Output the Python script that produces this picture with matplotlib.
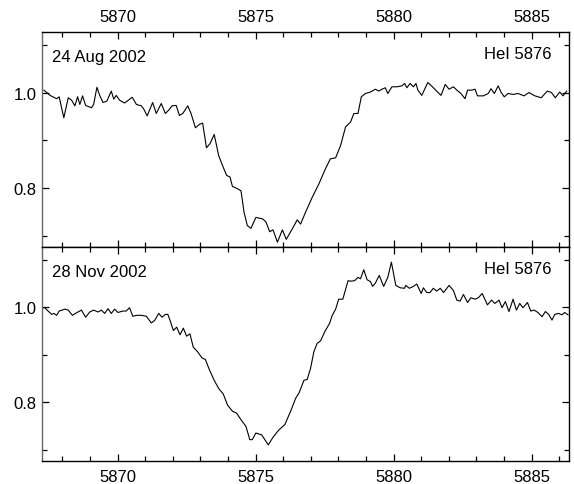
#!/usr/bin/env python
## HeI 5876 line profiles on two dates, stacked panels

import numpy as np
import matplotlib
matplotlib.use('Agg')
from matplotlib import pyplot as plt
from matplotlib.ticker import MultipleLocator

plt.rcParams['font.family'] = ['Liberation Sans', 'DejaVu Sans']

# 24 Aug 2002
aug_wl = [5867.33, 5867.55, 5867.79, 5867.88, 5868.05, 5868.21, 5868.33, 5868.45, 5868.55, 5868.63,
          5868.73, 5868.84, 5869.05, 5869.13, 5869.25, 5869.35, 5869.47, 5869.61, 5869.77, 5869.86,
          5869.95, 5870.07, 5870.25, 5870.37, 5870.53, 5870.68, 5870.86, 5870.94, 5871.07, 5871.27,
          5871.40, 5871.58, 5871.73, 5871.85, 5871.97, 5872.12, 5872.24, 5872.36, 5872.54, 5872.66,
          5872.82, 5872.96, 5873.08, 5873.22, 5873.35, 5873.50, 5873.66, 5873.80, 5873.95, 5874.07,
          5874.16, 5874.31, 5874.47, 5874.58, 5874.70, 5874.83, 5875.01, 5875.25, 5875.37, 5875.51,
          5875.63, 5875.79, 5875.97, 5876.11, 5876.29, 5876.51, 5876.63, 5876.81, 5877.05, 5877.29,
          5877.53, 5877.71, 5877.90, 5878.08, 5878.26, 5878.44, 5878.56, 5878.71, 5878.83, 5878.98,
          5879.16, 5879.34, 5879.46, 5879.58, 5879.70, 5879.79, 5879.94, 5880.12, 5880.30, 5880.40,
          5880.48, 5880.60, 5880.72, 5880.81, 5880.88, 5881.02, 5881.24, 5881.41, 5881.56, 5881.72,
          5881.87, 5882.01, 5882.17, 5882.29, 5882.44, 5882.59, 5882.68, 5882.83, 5882.95, 5883.04,
          5883.25, 5883.43, 5883.53, 5883.65, 5883.79, 5883.89, 5884.01, 5884.15, 5884.33, 5884.51,
          5884.73, 5884.90, 5885.12, 5885.35, 5885.57, 5885.72, 5885.86, 5886.02, 5886.14, 5886.27]
aug_flux = [1.005, 0.994, 0.987, 0.991, 0.947, 0.989, 0.984, 0.972, 0.991, 0.975,
            0.993, 0.973, 0.968, 0.975, 1.011, 0.994, 0.979, 0.982, 1.003, 0.986,
            0.994, 0.984, 0.978, 0.983, 0.990, 0.975, 0.972, 0.966, 0.951, 0.979,
            0.956, 0.977, 0.956, 0.963, 0.972, 0.973, 0.952, 0.956, 0.972, 0.956,
            0.926, 0.933, 0.936, 0.884, 0.893, 0.912, 0.868, 0.847, 0.826, 0.823,
            0.803, 0.799, 0.794, 0.749, 0.721, 0.715, 0.738, 0.735, 0.729, 0.708,
            0.712, 0.686, 0.712, 0.692, 0.710, 0.733, 0.724, 0.749, 0.780, 0.808,
            0.840, 0.861, 0.863, 0.889, 0.928, 0.938, 0.956, 0.956, 0.991, 0.998,
            1.001, 1.007, 1.003, 1.007, 1.010, 0.998, 1.012, 1.012, 1.014, 1.019,
            1.010, 1.019, 1.012, 1.019, 1.005, 0.994, 1.021, 1.012, 1.003, 0.994,
            1.017, 1.007, 1.012, 1.005, 0.998, 0.987, 1.005, 1.005, 1.007, 0.993,
            0.993, 0.998, 1.008, 0.998, 1.014, 1.001, 0.991, 0.998, 0.996, 0.998,
            0.993, 1.000, 0.993, 0.989, 1.003, 1.000, 0.989, 1.001, 0.993, 1.003]

# 28 Nov 2002
nov_wl = [5867.25, 5867.36, 5867.48, 5867.61, 5867.69, 5867.79, 5867.88, 5868.09, 5868.21, 5868.36,
          5868.53, 5868.69, 5868.84, 5868.99, 5869.13, 5869.29, 5869.41, 5869.53, 5869.65, 5869.77,
          5869.89, 5870.01, 5870.19, 5870.31, 5870.43, 5870.55, 5870.70, 5870.86, 5871.04, 5871.22,
          5871.34, 5871.49, 5871.61, 5871.73, 5871.82, 5871.90, 5872.02, 5872.14, 5872.26, 5872.38,
          5872.50, 5872.62, 5872.74, 5872.90, 5873.06, 5873.18, 5873.32, 5873.50, 5873.66, 5873.83,
          5873.98, 5874.16, 5874.31, 5874.47, 5874.65, 5874.79, 5874.88, 5875.01, 5875.22, 5875.46,
          5875.63, 5875.82, 5876.06, 5876.27, 5876.45, 5876.57, 5876.75, 5876.87, 5876.99, 5877.11,
          5877.23, 5877.35, 5877.51, 5877.68, 5877.77, 5877.90, 5878.01, 5878.16, 5878.35, 5878.44,
          5878.59, 5878.71, 5878.80, 5878.92, 5879.04, 5879.16, 5879.24, 5879.34, 5879.48, 5879.64,
          5879.79, 5879.92, 5880.08, 5880.24, 5880.40, 5880.44, 5880.57, 5880.72, 5880.84, 5881.00,
          5881.08, 5881.20, 5881.32, 5881.44, 5881.56, 5881.69, 5881.81, 5882.01, 5882.17, 5882.29,
          5882.41, 5882.53, 5882.68, 5882.80, 5882.95, 5883.07, 5883.21, 5883.40, 5883.55, 5883.67,
          5883.82, 5883.93, 5884.05, 5884.18, 5884.33, 5884.45, 5884.57, 5884.69, 5884.85, 5884.97,
          5885.09, 5885.23, 5885.38, 5885.50, 5885.62, 5885.74, 5885.84, 5885.98, 5886.10, 5886.20,
          5886.32]
nov_flux = [0.999, 0.999, 0.992, 0.985, 0.987, 0.983, 0.992, 0.996, 0.994, 0.983,
            0.989, 0.994, 0.979, 0.990, 0.994, 0.990, 0.994, 0.987, 0.997, 0.987,
            0.996, 0.989, 0.992, 0.992, 0.999, 0.981, 0.983, 0.983, 0.981, 0.967,
            0.972, 0.987, 0.979, 0.985, 0.985, 0.972, 0.951, 0.958, 0.942, 0.956,
            0.939, 0.944, 0.916, 0.906, 0.893, 0.890, 0.869, 0.846, 0.829, 0.817,
            0.794, 0.781, 0.777, 0.763, 0.749, 0.721, 0.721, 0.735, 0.731, 0.710,
            0.726, 0.740, 0.753, 0.781, 0.808, 0.819, 0.846, 0.848, 0.871, 0.906,
            0.924, 0.929, 0.949, 0.966, 0.982, 0.996, 1.017, 1.017, 1.056, 1.055,
            1.056, 1.063, 1.060, 1.079, 1.058, 1.054, 1.044, 1.051, 1.067, 1.044,
            1.063, 1.095, 1.046, 1.041, 1.040, 1.046, 1.040, 1.044, 1.049, 1.029,
            1.041, 1.031, 1.031, 1.040, 1.034, 1.040, 1.031, 1.046, 1.035, 1.015,
            1.013, 1.027, 1.010, 1.020, 1.017, 1.020, 1.029, 1.005, 1.015, 1.008,
            1.015, 0.999, 1.012, 0.991, 1.017, 0.994, 1.008, 0.999, 1.010, 0.992,
            0.994, 0.989, 0.980, 0.991, 0.985, 0.973, 0.985, 0.987, 0.984, 0.989,
            0.984]

dates = ['24 Aug 2002', '28 Nov 2002']
line_label = 'HeI 5876'

fig = plt.figure(figsize=(5.74, 4.85), dpi=100)
ax1 = fig.add_axes([0.0732, 0.4887, 0.9178, 0.4433])
ax2 = fig.add_axes([0.0732, 0.0474, 0.9178, 0.4413])

for ax, wl, flux, date in [(ax1, aug_wl, aug_flux, dates[0]), (ax2, nov_wl, nov_flux, dates[1])]:
    ax.plot(wl, flux, color='black', lw=0.8)
    ax.set_xlim(5867.26, 5886.35)
    ax.set_ylim(0.676, 1.127)
    ax.xaxis.set_major_locator(MultipleLocator(5))
    ax.xaxis.set_minor_locator(MultipleLocator(1))
    ax.yaxis.set_major_locator(MultipleLocator(0.2))
    ax.yaxis.set_minor_locator(MultipleLocator(0.1))
    ax.yaxis.set_major_formatter(plt.FormatStrFormatter('%.1f'))
    ax.tick_params(which='both', direction='in', top=True, right=True, labelsize=12, width=0.9)
    ax.tick_params(which='major', length=5)
    ax.tick_params(which='minor', length=3.5)
    ax.tick_params(axis='x', pad=6)
    ax.tick_params(axis='y', pad=4)
    for s in ax.spines.values():
        s.set_linewidth(1.0)
    ax.spines['left'].set_color('#666666')
    ax.text(0.019, 0.885, date, transform=ax.transAxes, fontsize=12, ha='left', va='center')
    ax.text(0.968, 0.90, line_label, transform=ax.transAxes, fontsize=12, ha='right', va='center')

ax1.tick_params(axis='x', labeltop=True, labelbottom=False)

plt.savefig('out.png', dpi=100)
